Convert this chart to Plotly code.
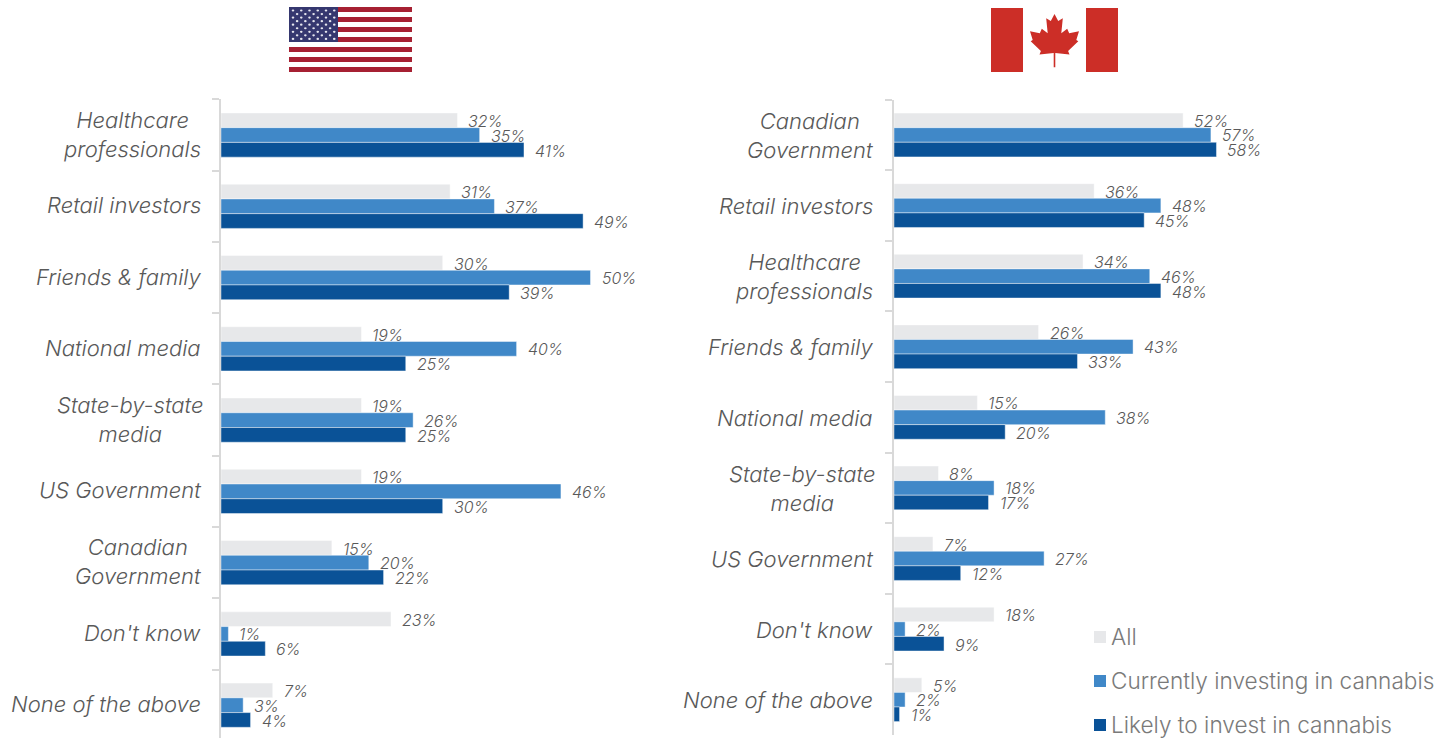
import plotly.graph_objects as go

WIDTH, HEIGHT = 1452, 738

# Survey answers per country, top to bottom
us_categories = ["Healthcare<br>professionals", "Retail investors", "Friends &amp; family", "National media",
                 "State-by-state<br>media", "US Government", "Canadian<br>Government", "Don't know",
                 "None of the above"]
us_all = [32, 31, 30, 19, 19, 19, 15, 23, 7]
us_current = [35, 37, 50, 40, 26, 46, 20, 1, 3]
us_likely = [41, 49, 39, 25, 25, 30, 22, 6, 4]

ca_categories = ["Canadian<br>Government", "Retail investors", "Healthcare<br>professionals", "Friends &amp; family",
                 "National media", "State-by-state<br>media", "US Government", "Don't know",
                 "None of the above"]
ca_all = [52, 36, 34, 26, 15, 8, 7, 18, 5]
ca_current = [57, 48, 46, 43, 38, 18, 27, 2, 2]
ca_likely = [58, 45, 48, 33, 20, 17, 12, 9, 1]

series_names = ["All", "Currently investing in cannabis", "Likely to invest in cannabis"]
series_colors = ["#E7E8EA", "#4088C8", "#0A5297"]

FONT = "Inter"
LABEL_COLOR = "#595959"
AXIS_COLOR = "#D9D9D9"


def fx(px):
    return px / WIDTH


def fy(py):
    return 1 - py / HEIGHT


def rect(x0, y0, x1, y1, color):
    return dict(type="rect", xref="paper", yref="paper", x0=fx(x0), x1=fx(x1), y0=fy(y1), y1=fy(y0),
                fillcolor=color, line=dict(width=0), layer="above")


fig = go.Figure()
annotations = []
shapes = []

panels = [
    ("x", "y", us_categories, [us_all, us_current, us_likely], -18, -3),
    ("x2", "y2", ca_categories, [ca_all, ca_current, ca_likely], -19, -1.5),
]
for xref, yref, cats, columns, label_edge, label_drop in panels:
    for name, color, values in zip(series_names, series_colors, columns):
        fig.add_trace(go.Bar(name=name, x=values, y=cats, orientation="h", xaxis=xref, yaxis=yref,
                             marker=dict(color=color, line=dict(color="rgba(255,255,255,0.55)", width=0.8)),
                             showlegend=False))
    # Category names stay centred on themselves, so they are placed as annotations
    for cat in cats:
        edge = label_edge + 3 if cat.startswith("State") else label_edge
        annotations.append(dict(x=0, y=cat, xref=xref, yref=yref, text=cat, showarrow=False, xanchor="right",
                                align="center", xshift=edge, yshift=-label_drop - 2,
                                font=dict(family=FONT, size=22, color=LABEL_COLOR, style="italic", weight=300)))
    # Percent labels beside the bar ends
    for shift, values in zip([14, -0.5, -15.5], columns):
        for cat, val in zip(cats, values):
            annotations.append(dict(x=val, y=cat, xref=xref, yref=yref, text=f"{val}%", showarrow=False,
                                    xanchor="left", xshift=9, yshift=shift,
                                    font=dict(family=FONT, size=16, color=LABEL_COLOR, style="italic", weight=300)))

axis_common = dict(range=[0, 60], visible=False, fixedrange=True)
y_common = dict(type="category", tickson="boundaries", ticks="outside", ticklen=7,
                tickcolor=AXIS_COLOR, tickwidth=1.5, showline=True, linecolor=AXIS_COLOR, linewidth=1.5,
                showticklabels=False, showgrid=False, zeroline=False, fixedrange=True)

# Star field of the US flag: alternating rows of six and five
star_rows = [6, 5, 6, 5, 6, 5, 6, 5, 6]

# Stripes and canton of the US flag
for i in range(13):
    shapes.append(rect(289, 7 + i * 5, 412, 7 + (i + 1) * 5, "#A62032" if i % 2 == 0 else "#FFFFFF"))
shapes.append(rect(289, 7, 338, 42, "#35376F"))
for r, n in enumerate(star_rows):
    for c in range(n):
        cx = 293 + c * 8.25 + (4.1 if n == 5 else 0)
        cy = 10.5 + r * 3.55
        shapes.append(dict(type="circle", xref="paper", yref="paper", x0=fx(cx - 1.3), x1=fx(cx + 1.3),
                           y0=fy(cy + 1.1), y1=fy(cy - 1.1), fillcolor="#E6E6EE", line=dict(width=0),
                           layer="above"))

# Canadian flag: two bars and the maple leaf outline
shapes.append(rect(991, 8, 1023, 72, "#CC2E27"))
shapes.append(rect(1086, 8, 1118, 72, "#CC2E27"))
leaf_half = [(0, 14), (3.7, 21), (8.3, 18.3), (6.8, 33.3), (12.7, 28.7), (14.7, 33.3), (24.5, 31.2), (21.8, 40),
             (23.8, 41.3), (13.6, 51), (15, 54.6), (0.8, 53), (0.8, 67.3)]
leaf_cx = 1054.5
outline = [(leaf_cx + dx, y) for dx, y in leaf_half] + [(leaf_cx - dx, y) for dx, y in reversed(leaf_half)]
path = "M " + " L ".join(f"{fx(x):.5f},{fy(y):.5f}" for x, y in outline) + " Z"
shapes.append(dict(type="path", xref="paper", yref="paper", path=path, fillcolor="#CC2E27", line=dict(width=0),
                   layer="above"))

# Key in the lower right corner
for name, color, py in zip(series_names, series_colors, [637, 681, 725]):
    shapes.append(rect(1094, py - 6, 1106, py + 6, color))
    annotations.append(dict(x=fx(1109), y=fy(py - 1), xref="paper", yref="paper", text=name, showarrow=False,
                            xanchor="left", yanchor="middle",
                            font=dict(family=FONT, size=22.6, color="#7A7A7A", weight=300)))

fig.update_layout(
    width=WIDTH, height=HEIGHT, margin=dict(l=0, r=0, t=0, b=0),
    paper_bgcolor="white", plot_bgcolor="white", barmode="group", bargap=0.38, bargroupgap=0,
    xaxis=dict(domain=[fx(221), fx(221 + 443.4)], anchor="y", **axis_common),
    yaxis=dict(domain=[0, fy(99.4)], anchor="x", range=[8.46, -0.5], **y_common),
    xaxis2=dict(domain=[fx(894), fx(894 + 333.6)], anchor="y2", **axis_common),
    yaxis2=dict(domain=[fy(735), fy(99.7)], anchor="x2", range=[8.5, -0.5], **y_common),
    shapes=shapes, annotations=annotations,
)

fig.write_html("out.html")
